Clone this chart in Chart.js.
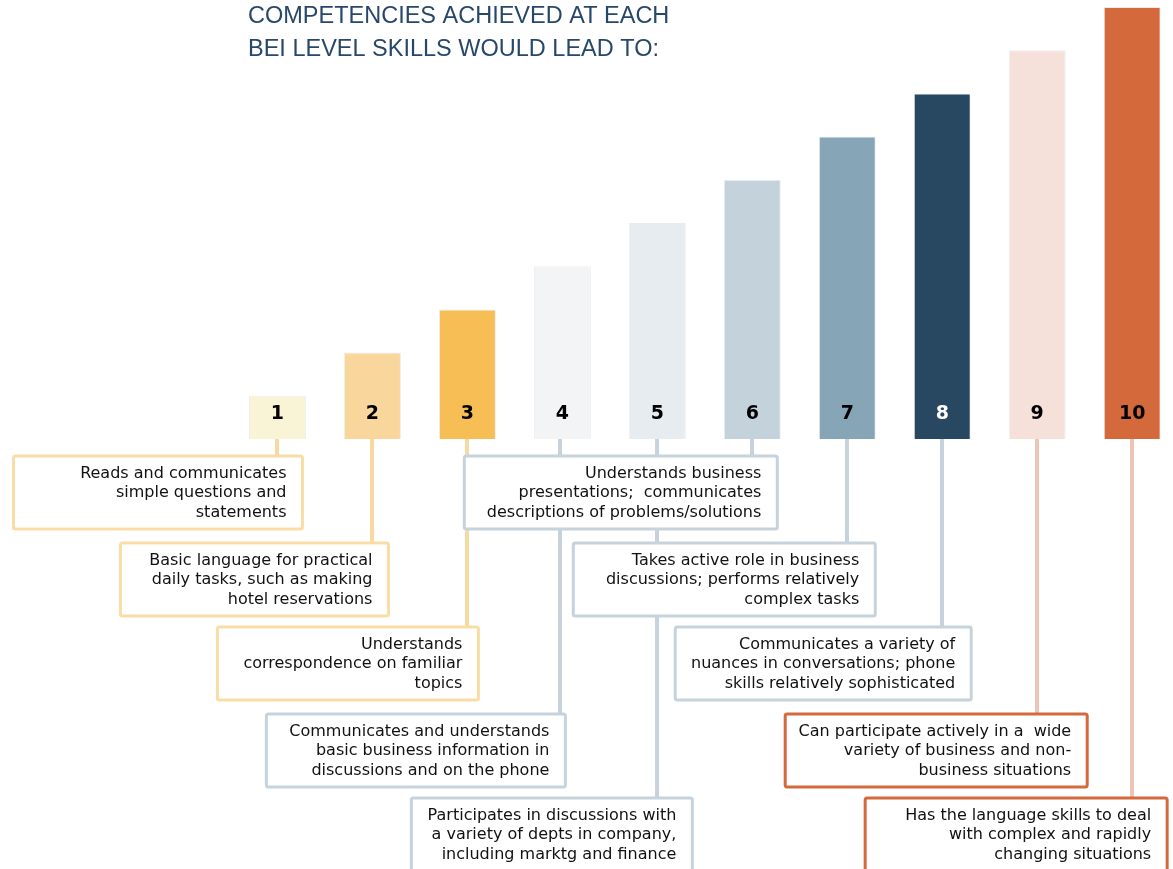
<!DOCTYPE html>
<html><head><meta charset="utf-8">
<script src="https://cdn.jsdelivr.net/npm/chart.js@4"></script>
<style>html,body{margin:0;padding:0;background:#fff;overflow:hidden}</style>
</head><body>
<canvas id="c" width="1173" height="869"></canvas>
<script>
// ---- data ----
const levels = ['1','2','3','4','5','6','7','8','9','10'];
const heights = [1,2,3,4,5,6,7,8,9,10];
const titleLines = ['COMPETENCIES ACHIEVED AT EACH','BEI LEVEL SKILLS WOULD LEAD TO:'];
const competencies = [
  ['Reads and communicates','simple questions and','statements'],
  ['Basic language for practical','daily tasks, such as making','hotel reservations'],
  ['Understands','correspondence on familiar','topics'],
  ['Communicates and understands','basic business information in','discussions and on the phone'],
  ['Participates in discussions with','a variety of depts in company,','including marktg and finance'],
  ['Understands business','presentations;  communicates','descriptions of problems/solutions'],
  ['Takes active role in business','discussions; performs relatively','complex tasks'],
  ['Communicates a variety of','nuances in conversations; phone','skills relatively sophisticated'],
  ['Can participate actively in a  wide','variety of business and non-','business situations'],
  ['Has the language skills to deal','with complex and rapidly','changing situations']
];
// ---- styles / layout ----
const barColors = ['#FAF4D6','#F9D79C','#F6BE55','#F3F4F6','#E6ECF0','#C4D2DB','#86A5B6','#284761','#F5E1DA','#D4693C'];
const numberColors = ['#000','#000','#000','#000','#000','#000','#000','#fff','#000','#000'];
const lineColors = ['#F9D9A2','#F9D9A2','#F9D9A2','#C6D3DC','#C6D3DC','#C6D3DC','#C6D3DC','#C6D3DC','#EEC4B6','#EEC4B6'];
const boxBorders = ['#FADDA6','#FADDA6','#FADDA6','#C6D3DC','#C6D3DC','#C6D3DC','#C6D3DC','#C6D3DC','#D4693C','#D4693C'];
const boxRow = [0,1,2,3,4,0,1,2,3,4];
const rowTops = [17,104,188,275,359];
const boxRightOffset = [25,16,11,3,35,25,28,29,50,35];
const boxWidth = [289,268,261,299,281,313,302,296,302,302];
const boxHeight = 73;

const annot = {
  id: 'annot',
  afterDatasetsDraw(chart) {
    const ctx = chart.ctx, xs = chart.scales.x, ys = chart.scales.y;
    const base = ys.getPixelForValue(0);
    ctx.save();
    // title
    ctx.fillStyle = '#27486B';
    ctx.font = '23.5px "Liberation Sans", Arial, sans-serif';
    ctx.textBaseline = 'middle';
    ctx.textAlign = 'left';
    ctx.fillText(titleLines[0], 248, 17);
    ctx.fillText(titleLines[1], 248, 50);
    // level numbers
    ctx.font = 'bold 19px "DejaVu Sans", Verdana, sans-serif';
    ctx.textAlign = 'center';
    levels.forEach((l, i) => {
      ctx.fillStyle = numberColors[i];
      ctx.fillText(l, xs.getPixelForValue(i + 1), base - 25);
    });
    // connectors
    levels.forEach((l, i) => {
      const x = Math.round(xs.getPixelForValue(i + 1) - (i === 3 ? 2 : 0));
      ctx.strokeStyle = lineColors[i];
      ctx.lineWidth = 4;
      ctx.beginPath();
      ctx.moveTo(x, base);
      ctx.lineTo(x, base + rowTops[boxRow[i]]);
      ctx.stroke();
    });
    // boxes
    ctx.font = '16px "DejaVu Sans", Verdana, sans-serif';
    ctx.textAlign = 'right';
    levels.forEach((l, i) => {
      const cx = xs.getPixelForValue(i + 1);
      const right = cx + boxRightOffset[i];
      const left = right - boxWidth[i];
      const top = base + rowTops[boxRow[i]];
      ctx.fillStyle = '#fff';
      ctx.strokeStyle = boxBorders[i];
      ctx.lineWidth = 3;
      ctx.beginPath();
      ctx.roundRect(left, top, boxWidth[i], boxHeight, 2);
      ctx.fill();
      ctx.stroke();
      ctx.fillStyle = '#111';
      competencies[i].forEach((t, k) => {
        ctx.fillText(t, right - 16, top + 18 + k * 19.3);
      });
    });
    ctx.restore();
  }
};

new Chart(document.getElementById('c'), {
  type: 'bar',
  data: {
    datasets: [{
      data: heights.map((h, i) => ({ x: i + 1, y: h })),
      backgroundColor: barColors,
      borderColor: 'rgba(0,0,0,0.07)',
      borderWidth: 1,
      barPercentage: 1,
      categoryPercentage: 0.6
    }]
  },
  options: {
    responsive: false,
    devicePixelRatio: 1,
    animation: false,
    layout: { padding: { left: 230, right: 0, top: 7, bottom: 430 } },
    plugins: { legend: { display: false }, tooltip: { enabled: false } },
    scales: {
      x: { type: 'linear', display: false, offset: false, grid: { offset: false }, min: 0.5, max: 10.43 },
      y: { display: false, min: 0, max: 10 }
    }
  },
  plugins: [annot]
});
</script>
</body></html>
